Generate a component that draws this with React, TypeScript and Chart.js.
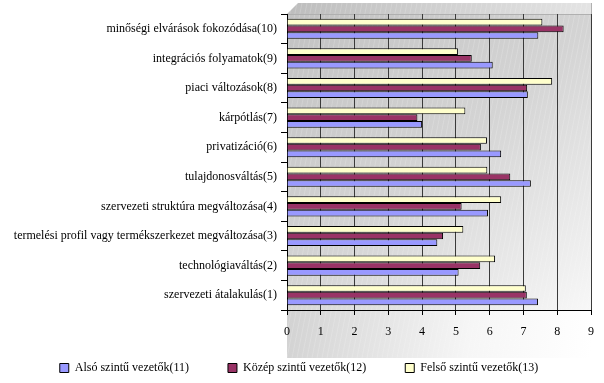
import React, { useEffect, useRef } from "react";
import { Chart, registerables } from "chart.js";

Chart.register(...registerables);

const categories: string[] = [
  "minőségi elvárások fokozódása(10)",
  "integrációs folyamatok(9)",
  "piaci változások(8)",
  "kárpótlás(7)",
  "privatizáció(6)",
  "tulajdonosváltás(5)",
  "szervezeti struktúra megváltozása(4)",
  "termelési profil vagy termékszerkezet megváltozása(3)",
  "technológiaváltás(2)",
  "szervezeti átalakulás(1)",
];

const alsoValues: number[] = [7.44, 6.09, 7.13, 4.0, 6.34, 7.22, 5.95, 4.45, 5.08, 7.43];
const kozepValues: number[] = [8.19, 5.47, 7.11, 3.86, 5.74, 6.61, 5.17, 4.62, 5.72, 7.1];
const felsoValues: number[] = [7.56, 5.06, 7.85, 5.28, 5.92, 5.93, 6.34, 5.22, 6.16, 7.07];

const seriesNames: string[] = [
  "Alsó szintű vezetők(11)",
  "Közép szintű vezetők(12)",
  "Felső szintű vezetők(13)",
];

const xMin = 0;
const xMax = 9;

const FONT = "'Liberation Serif', 'Times New Roman', serif";

const backdropPlugin = {
  id: "backdrop",
  afterLayout(chart: any) {
    const lg = chart.legend;
    if (lg) {
      lg.top -= 15;
    }
  },
  beforeDraw(chart: any) {
    const { ctx, chartArea } = chart;
    const { left, right, top, bottom } = chartArea;
    ctx.save();
    // top strip (3D wall top)
    const g0 = ctx.createLinearGradient(left, 0, right, 0);
    g0.addColorStop(0, "#bdbdbd");
    g0.addColorStop(1, "#e4e4e4");
    ctx.fillStyle = g0;
    ctx.beginPath();
    ctx.moveTo(left, top);
    ctx.lineTo(left + 11, top - 11);
    ctx.lineTo(right + 1, top - 11);
    ctx.lineTo(right + 1, top);
    ctx.closePath();
    ctx.fill();
    // wall
    const g = ctx.createLinearGradient(left, top, right, bottom + 60);
    g.addColorStop(0, "#c2c2c2");
    g.addColorStop(0.45, "#d4d4d4");
    g.addColorStop(1, "#ffffff");
    ctx.fillStyle = g;
    ctx.fillRect(left, top, right - left + 1, bottom - top);
    // floor
    const g2 = ctx.createLinearGradient(left, bottom, right, bottom + 48);
    g2.addColorStop(0, "#d2d2d2");
    g2.addColorStop(0.6, "#f6f6f6");
    g2.addColorStop(1, "#ffffff");
    ctx.fillStyle = g2;
    ctx.fillRect(left, bottom, right - left + 1, 48);
    // faint diagonal hatching
    ctx.beginPath();
    ctx.rect(left, top - 11, right - left + 1, bottom - top + 59);
    ctx.clip();
    ctx.strokeStyle = "rgba(255,255,255,0.18)";
    ctx.lineWidth = 1;
    for (let x = left - 400; x < right + 400; x += 5) {
      ctx.beginPath();
      ctx.moveTo(x, bottom + 48);
      ctx.lineTo(x + 70, top - 11);
      ctx.stroke();
    }
    ctx.restore();
    // wall edges
    ctx.save();
    ctx.strokeStyle = "#b0b0b0";
    ctx.lineWidth = 1;
    ctx.beginPath();
    ctx.moveTo(left, top + 0.5);
    ctx.lineTo(right + 1, top + 0.5);
    ctx.moveTo(right + 0.5, top - 11);
    ctx.lineTo(right + 0.5, bottom);
    ctx.stroke();
    ctx.restore();
  },
};

export default function App() {
  const ref = useRef<HTMLCanvasElement | null>(null);

  useEffect(() => {
    if (!ref.current) return;
    const chart = new Chart(ref.current, {
      type: "bar",
      data: {
        labels: categories,
        datasets: [
          {
            label: seriesNames[2],
            data: felsoValues,
            backgroundColor: "#FFFFCC",
            borderColor: "#000000",
            borderWidth: 1,
          },
          {
            label: seriesNames[1],
            data: kozepValues,
            backgroundColor: "#993366",
            borderColor: "#000000",
            borderWidth: 1,
          },
          {
            label: seriesNames[0],
            data: alsoValues,
            backgroundColor: "#9999FF",
            borderColor: "#000000",
            borderWidth: 1,
          },
        ],
      },
      options: {
        indexAxis: "y",
        responsive: true,
        maintainAspectRatio: false,
        animation: false,
        datasets: {
          bar: {
            categoryPercentage: 0.68,
            barPercentage: 1.0,
          },
        },
        layout: { padding: { top: 14, right: 6, bottom: 2, left: 0 } },
        scales: {
          x: {
            min: xMin,
            max: xMax,
            ticks: {
              stepSize: 1,
              color: "#000",
              padding: 10,
              font: { family: FONT, size: 12 },
            },
            grid: {
              color: "#3a3a3a",
              drawOnChartArea: true,
              drawTicks: true,
              tickLength: 5,
              tickColor: "#000",
            },
            border: { color: "#000", width: 1 },
            afterFit: (s: any) => {
              s.height = 28;
            },
          },
          y: {
            ticks: {
              color: "#000",
              padding: 4,
              font: { family: FONT, size: 12 },
            },
            grid: {
              drawOnChartArea: false,
              drawTicks: true,
              tickLength: 6,
              tickColor: "#000",
              offset: true,
            },
            border: { color: "#000", width: 1 },
            afterFit: (s: any) => {
              s.width = 287;
            },
          },
        },
        plugins: {
          legend: {
            position: "bottom",
            reverse: true,
            maxHeight: 43,
            labels: {
              boxWidth: 9,
              boxHeight: 9,
              padding: 39,
              color: "#000",
              font: { family: FONT, size: 12 },
            },
          },
          tooltip: { enabled: false },
        },
      },
      plugins: [backdropPlugin],
    });
    return () => chart.destroy();
  }, []);

  return (
    <div
      style={{
        position: "fixed",
        left: 0,
        top: 0,
        width: 604,
        height: 383,
        background: "#ffffff",
      }}
    >
      <canvas ref={ref} />
    </div>
  );
}
